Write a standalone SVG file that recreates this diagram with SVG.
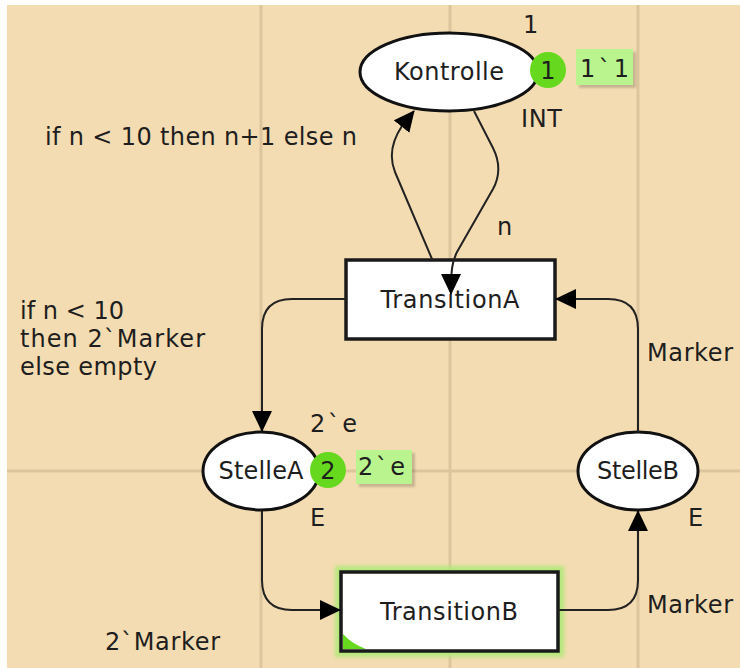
<svg xmlns="http://www.w3.org/2000/svg" width="740" height="668" viewBox="0 0 740 668">
  <defs>
    <style>
      .bg { fill: #f4dcb2; }
      .grid { stroke: #dcc59c; stroke-width: 3; fill: none; }
      .place { fill: #ffffff; stroke: #111111; stroke-width: 3; }
      .trans { fill: #ffffff; stroke: #1a1a1a; stroke-width: 3.5; }
      .arc { fill: none; stroke: #222222; stroke-width: 2; }
      .lbl { font-family: "DejaVu Sans", Verdana, sans-serif; font-size: 24px; fill: #1e1e1e; }
      .mid { text-anchor: middle; }
      .token { fill: #66d91e; }
      .mark { fill: #b9f48e; }
      .shadow { fill: #000000; opacity: 0.18; }
    </style>
    <marker id="arrow" viewBox="0 0 21 20" markerWidth="21" markerHeight="20" refX="20" refY="10" orient="auto" markerUnits="userSpaceOnUse">
      <path d="M0,0 L21,10 L0,20 Z" fill="#000000"/>
    </marker>
    <filter id="glow" x="-20%" y="-30%" width="140%" height="160%">
      <feGaussianBlur stdDeviation="2"/>
    </filter>
    <filter id="soft" x="-20%" y="-20%" width="140%" height="140%">
      <feGaussianBlur stdDeviation="1.2"/>
    </filter>
  </defs>

  <!-- page and canvas -->
  <rect x="0" y="0" width="740" height="668" fill="#ffffff"/>
  <rect class="bg" x="7" y="5" width="733" height="663"/>

  <!-- grid -->
  <g id="grid">
    <line class="grid" x1="261" y1="5" x2="261" y2="668"/>
    <line class="grid" x1="450" y1="5" x2="450" y2="668"/>
    <line class="grid" x1="638" y1="5" x2="638" y2="668"/>
    <line class="grid" x1="7" y1="471" x2="740" y2="471"/>
  </g>

  <!-- arc inscriptions -->
  <g id="arc-labels">
    <text class="lbl" x="45" y="145" textLength="312" lengthAdjust="spacing">if n &lt; 10 then n+1 else n</text>
    <text class="lbl" x="497" y="235">n</text>
    <text class="lbl" x="20" y="319" textLength="104" lengthAdjust="spacing">if n &lt; 10</text>
    <text class="lbl" x="20" y="347" textLength="185" lengthAdjust="spacing">then 2`Marker</text>
    <text class="lbl" x="20" y="375" textLength="137" lengthAdjust="spacing">else empty</text>
    <text class="lbl" x="647" y="361" textLength="86" lengthAdjust="spacing">Marker</text>
    <text class="lbl" x="647" y="613" textLength="86" lengthAdjust="spacing">Marker</text>
    <text class="lbl" x="105" y="650" textLength="115" lengthAdjust="spacing">2`Marker</text>
  </g>

  <!-- place Kontrolle -->
  <g id="Kontrolle">
    <ellipse class="place" cx="449" cy="72" rx="89" ry="39"/>
    <text class="lbl mid" x="449" y="80" textLength="110" lengthAdjust="spacing">Kontrolle</text>
    <text class="lbl" x="523" y="33">1</text>
    <text class="lbl" x="521" y="127" textLength="41" lengthAdjust="spacing">INT</text>
    <circle class="token" cx="548" cy="70" r="18"/>
    <text class="lbl mid" x="548" y="79">1</text>
    <rect class="shadow" x="579" y="52" width="57" height="36" filter="url(#soft)"/>
    <rect class="mark" x="576" y="49" width="57" height="36"/>
    <text class="lbl" x="580" y="77" textLength="49" lengthAdjust="spacing">1`1</text>
  </g>

  <!-- transition TransitionA -->
  <g id="TransitionA">
    <rect class="trans" x="346" y="260" width="209" height="79"/>
    <text class="lbl mid" x="450" y="308" textLength="139" lengthAdjust="spacing">TransitionA</text>
  </g>

  <!-- place StelleA -->
  <g id="StelleA">
    <ellipse class="place" cx="261" cy="471" rx="58" ry="39"/>
    <text class="lbl mid" x="261" y="479" textLength="85" lengthAdjust="spacing">StelleA</text>
    <text class="lbl" x="310" y="432" textLength="47" lengthAdjust="spacing">2`e</text>
    <text class="lbl" x="310" y="526">E</text>
    <circle class="token" cx="328" cy="470" r="18"/>
    <text class="lbl mid" x="328" y="479">2</text>
    <rect class="shadow" x="359" y="453" width="56" height="34" filter="url(#soft)"/>
    <rect class="mark" x="356" y="450" width="56" height="34"/>
    <text class="lbl" x="358" y="475" textLength="47" lengthAdjust="spacing">2`e</text>
  </g>

  <!-- place StelleB -->
  <g id="StelleB">
    <ellipse class="place" cx="638" cy="471" rx="60" ry="39"/>
    <text class="lbl mid" x="638" y="479" textLength="82" lengthAdjust="spacing">StelleB</text>
    <text class="lbl" x="688" y="526">E</text>
  </g>

  <!-- transition TransitionB (enabled) -->
  <g id="TransitionB">
    <rect x="341" y="572" width="217" height="79" fill="none" stroke="#b4e87a" stroke-width="12" filter="url(#glow)"/>
    <rect class="trans" x="341" y="572" width="217" height="79"/>
    <path d="M343,649 L343,634 Q352,644 366,649 Z" fill="#66d91e"/>
    <text class="lbl mid" x="449" y="620" textLength="138" lengthAdjust="spacing">TransitionB</text>
  </g>

  <!-- arcs, drawn on top of the nodes -->
  <g id="arcs">
    <path class="arc" d="M432,259 L395,172 C389,157 392,141 402,126 L414,111" marker-end="url(#arrow)"/>
    <path class="arc" d="M474,111 L493,148 C500,162 500,176 493,189 L457,252 C452,262 451,270 451,294" marker-end="url(#arrow)"/>
    <path class="arc" d="M346,299 L292,299 Q262,299 262,329 L262,431" marker-end="url(#arrow)"/>
    <path class="arc" d="M262,511 L262,580 Q262,610 292,610 L340,610" marker-end="url(#arrow)"/>
    <path class="arc" d="M558,610 L608,610 Q638,610 638,580 L638,511" marker-end="url(#arrow)"/>
    <path class="arc" d="M638,432 L638,329 Q638,299 608,299 L556,299" marker-end="url(#arrow)"/>
  </g>
</svg>
